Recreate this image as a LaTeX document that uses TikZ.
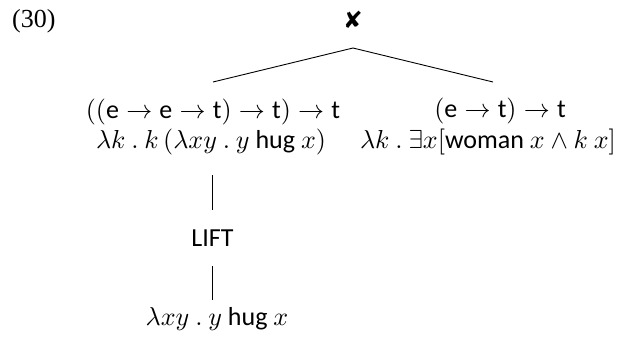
\documentclass[tikz,border=0pt]{standalone}
\usepackage{graphicx}
\usepackage{fontspec}
\setmainfont{Carlito}
\newfontfamily\numfont{Liberation Serif}
\newfontfamily\symfont{DejaVu Sans}
\newcommand{\tp}[1]{\mbox{#1}}
\newcommand{\enl}[1]{\scalebox{2.6}{#1}}
\begin{document}
\begin{tikzpicture}[x=1pt,y=-1pt,
  lbl/.style={inner sep=0pt, anchor=base, font=\fontsize{10}{12}\selectfont},
  edge/.style={line width=0.9pt}]
\useasboundingbox (0,0) rectangle (618,343);
\node[lbl, anchor=base west] (num) at (12,27) {\enl{\numfont (30)}};
\node[lbl] (root) at (353,28) {\enl{\symfont\fontsize{9}{10}\selectfont ✘}};
\node[lbl] (ltype) at (213,118) {\enl{$((\tp{e}\to\tp{e}\to\tp{t})\to\tp{t})\to\tp{t}$}};
\node[lbl] (lterm) at (211,148) {\enl{$\lambda k\ .\ k\,(\lambda xy\ .\ y\ \tp{hug}\ x)$}};
\node[lbl] (rtype) at (500,117) {\enl{$(\tp{e}\to\tp{t})\to\tp{t}$}};
\node[lbl] (rterm) at (488,148) {\enl{$\lambda k\ .\ \exists x[\tp{woman}\ x\wedge k\ x]$}};
\node[lbl] (lift) at (212.5,246) {\enl{LIFT}};
\node[lbl] (leaf) at (217,325) {\enl{$\lambda xy\ .\ y\ \tp{hug}\ x$}};
\coordinate (rootb) at (353,48);
\coordinate (la) at (213,82);
\coordinate (ra) at (493,82);
\coordinate (v1a) at (212.7,175);
\coordinate (v1b) at (212.7,210);
\coordinate (v2a) at (212.7,266);
\coordinate (v2b) at (212.7,300);
\draw[edge] (rootb) -- (la);
\draw[edge] (rootb) -- (ra);
\draw[edge] (v1a) -- (v1b);
\draw[edge] (v2a) -- (v2b);
\end{tikzpicture}
\end{document}
